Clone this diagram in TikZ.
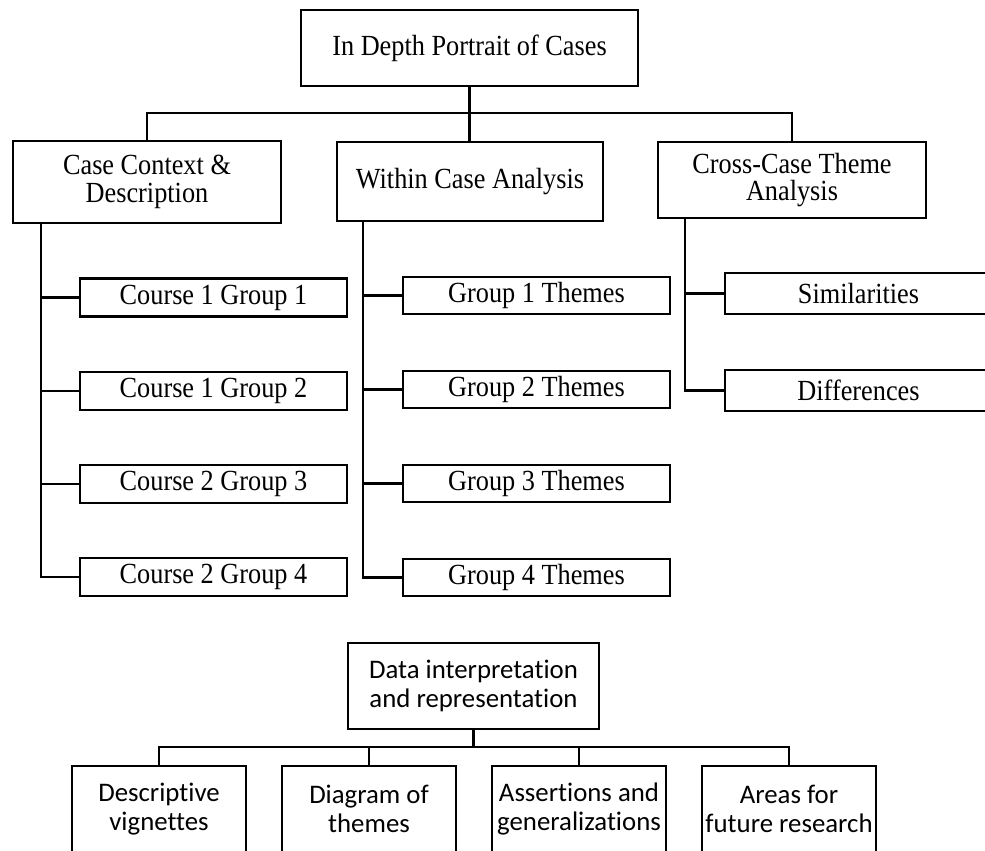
\documentclass[tikz,border=0pt]{standalone}
\usepackage{fontspec}
\setmainfont{Liberation Serif}[FakeStretch=0.9]
\newfontfamily\calib{Carlito}[Ligatures=NoCommon]
\begin{document}
\begin{tikzpicture}[x=0.75pt,y=-0.75pt,
  box/.style={draw=black,line width=1.8pt,inner sep=0pt,align=center,
    font=\fontsize{21.9pt}{20.8pt}\selectfont},
  sbox/.style={draw=black,line width=1.8pt,inner sep=0pt,align=center,
    font=\calib\fontsize{20.1pt}{21.6pt}\selectfont},
  wire/.style={draw=black,line width=1.8pt},
  dims/.style 2 args={minimum width=#1*0.75pt,minimum height=#2*0.75pt}]
\useasboundingbox (0,0) rectangle (985,850);
\clip (0,0) rectangle (985,850);
\fill[white] (0,0) rectangle (985,850);

% upper hierarchy
\node[box,dims={337}{76}] (top) at (469.5,48) {In Depth Portrait of Cases};
\node[box,dims={268}{82}] (case) at (147,182) {Case Context \&\\Description};
\node[box,dims={266}{79}] (within) at (470,181.5) {Within Case Analysis};
\node[box,dims={268}{76}] (cross) at (792,180) {Cross-Case Theme\\Analysis};

\node[box,dims={267}{38}] (c1) at (213.5,297.5) {Course 1 Group 1};
\node[box,dims={267}{38}] (c2) at (213.5,391) {Course 1 Group 2};
\node[box,dims={267}{38}] (c3) at (213.5,484) {Course 2 Group 3};
\node[box,dims={267}{38}] (c4) at (213.5,577) {Course 2 Group 4};

\node[box,dims={267}{37}] (g1) at (536.5,295.5) {Group 1 Themes};
\node[box,dims={267}{37}] (g2) at (536.5,389.5) {Group 2 Themes};
\node[box,dims={267}{37}] (g3) at (536.5,483.5) {Group 3 Themes};
\node[box,dims={267}{37}] (g4) at (536.5,577.5) {Group 4 Themes};

\node[box,dims={267}{41}] (sim) at (858.5,293.5) {Similarities};
\node[box,dims={267}{41}] (diff) at (858.5,390.5) {Differences};

% connectors of the upper hierarchy
\coordinate (hub) at (469.5,113);
\draw[wire] (top.south) -- (hub);
\draw[wire] (case.north) |- (hub) -| (cross.north);
\draw[wire] (hub) -- (hub |- within.north);

\coordinate (caseTap) at (41,223);
\draw[wire] (caseTap) |- (c4.west);
\foreach \i in {1,2,3} \draw[wire] (caseTap |- c\i.west) -- (c\i.west);

\coordinate (withinTap) at (363,221);
\draw[wire] (withinTap) |- (g4.west);
\foreach \i in {1,2,3} \draw[wire] (withinTap |- g\i.west) -- (g\i.west);

\coordinate (crossTap) at (685,218);
\draw[wire] (crossTap) |- (diff.west);
\draw[wire] (crossTap |- sim.west) -- (sim.west);

% lower hierarchy
\node[sbox,dims={251}{86}] (data) at (473.5,686) {Data interpretation\\and representation};
\node[sbox,dims={174}{86}] (b1) at (159,809) {Descriptive\\vignettes};
\node[sbox,dims={174}{86}] (b2) at (369,809) {Diagram of\\themes};
\node[sbox,dims={174}{86}] (b3) at (579,809) {Assertions and\\generalizations};
\node[sbox,dims={174}{86}] (b4) at (789,809) {Areas for\\future research};

\coordinate (hub2) at (473.5,747);
\draw[wire] (data.south) -- (hub2);
\draw[wire] (b1.north) |- (hub2) -| (b4.north);
\draw[wire] (b2.north) |- (hub2);
\draw[wire] (b3.north) |- (hub2);
\end{tikzpicture}
\end{document}
